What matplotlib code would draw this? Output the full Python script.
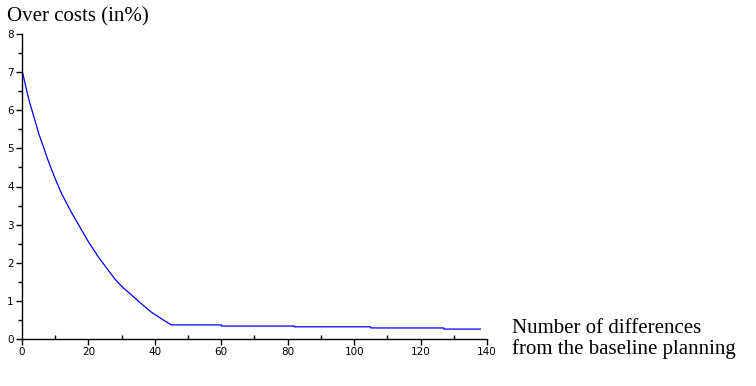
import matplotlib.pyplot as plt
from matplotlib.ticker import MultipleLocator

# curve
diffs = [0, 2, 5, 8, 10, 12, 15, 18, 20, 23, 26, 28, 30, 33, 36, 39, 42, 44, 45,
         60, 60, 82, 82, 105, 105, 127, 127, 138]
costs = [7.05, 6.3, 5.4, 4.65, 4.2, 3.8, 3.3, 2.85, 2.55, 2.15, 1.8, 1.57, 1.38,
         1.15, 0.92, 0.70, 0.53, 0.42, 0.37,
         0.37, 0.34, 0.34, 0.32, 0.32, 0.29, 0.29, 0.26, 0.26]

fig = plt.figure(figsize=(7.56, 3.86), dpi=100)
ax = fig.add_axes([22 / 756, 1 - 339 / 386, 465 / 756, 305 / 386])

ax.plot(diffs, costs, color='blue', linewidth=0.9)

ax.set_xlim(0, 140)
ax.set_ylim(0, 8)
ax.xaxis.set_major_locator(MultipleLocator(20))
ax.xaxis.set_minor_locator(MultipleLocator(10))
ax.yaxis.set_major_locator(MultipleLocator(1))
ax.yaxis.set_minor_locator(MultipleLocator(0.5))

for side in ('top', 'right'):
    ax.spines[side].set_visible(False)
ax.spines['left'].set_linewidth(1.0)
ax.spines['bottom'].set_linewidth(1.0)

ax.tick_params(axis='both', which='major', labelsize=7.5, length=4, width=1,
               direction='out', pad=2)
ax.tick_params(axis='x', which='minor', length=3, width=1, direction='in')
ax.tick_params(axis='y', which='minor', length=3, width=1, direction='out')

fig.text(7 / 756, 1 - 17 / 386, 'Over costs (in%)', family='Liberation Serif',
         fontsize=15, va='center', ha='left')
fig.text(512 / 756, 1 - 339 / 386, 'Number of differences\nfrom the baseline planning',
         family='Liberation Serif', fontsize=15, va='center', ha='left',
         linespacing=1.1)

fig.savefig('out.png', dpi=100)
